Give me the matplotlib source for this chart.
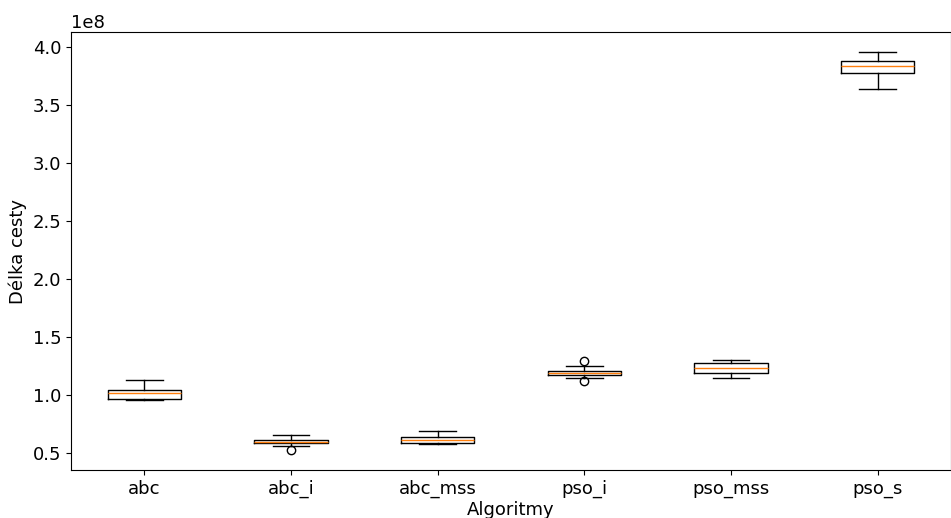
import matplotlib
matplotlib.use("Agg")
import matplotlib.pyplot as plt

labels = ["abc", "abc_i", "abc_mss", "pso_i", "pso_mss", "pso_s"]
whislo = [0.957, 0.558, 0.575, 1.149, 1.152, 3.644]
q1 = [0.966, 0.586, 0.584, 1.175, 1.187, 3.780]
med = [1.015, 0.600, 0.610, 1.192, 1.230, 3.836]
q3 = [1.043, 0.615, 0.635, 1.209, 1.273, 3.880]
whishi = [1.129, 0.652, 0.687, 1.247, 1.299, 3.960]
fliers = [[], [0.526], [], [1.296, 1.123], [], []]

stats = []
for i, lab in enumerate(labels):
    stats.append({
        "label": lab,
        "whislo": whislo[i] * 1e8,
        "q1": q1[i] * 1e8,
        "med": med[i] * 1e8,
        "q3": q3[i] * 1e8,
        "whishi": whishi[i] * 1e8,
        "fliers": [f * 1e8 for f in fliers[i]],
    })

fig = plt.figure(figsize=(9.51, 5.18), dpi=100)
ax = fig.add_axes([71 / 951, 48 / 518, 880 / 951, 438 / 518])
ax.bxp(stats)

ax.set_xlabel("Algoritmy", fontsize=13, labelpad=2)
ax.set_ylabel("Délka cesty", fontsize=13)
ax.tick_params(labelsize=13)
ax.yaxis.get_offset_text().set_fontsize(13)

fig.savefig("out.png", dpi=100)
